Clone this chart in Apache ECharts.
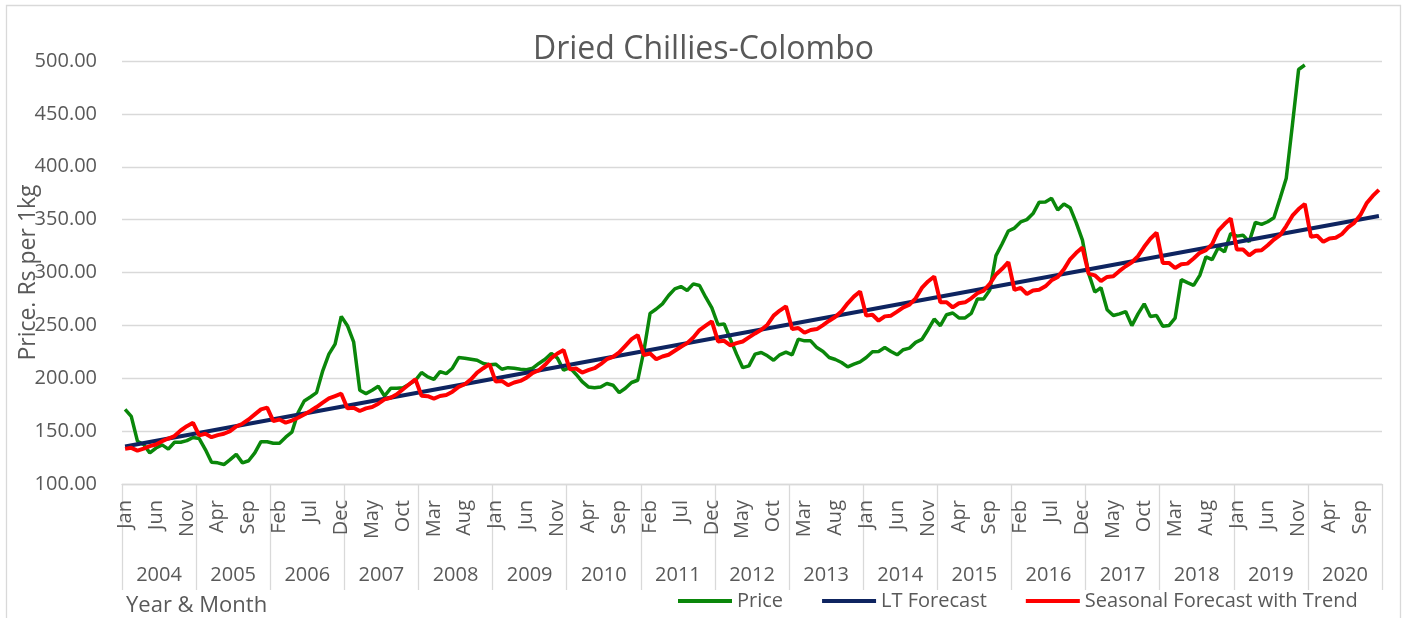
<!DOCTYPE html>
<html>
<head>
<meta charset="utf-8">
<title>Dried Chillies-Colombo</title>
<script src="https://cdn.jsdelivr.net/npm/echarts@6.0.0/dist/echarts.min.js"></script>
<style>
  html, body { margin: 0; padding: 0; background: #fff; }
  #chart { width: 1407px; height: 618px; }
</style>
</head>
<body>
<div id="chart"></div>
<script>
// axis categories
const years = ['2004','2005','2006','2007','2008','2009','2010','2011','2012','2013','2014','2015','2016','2017','2018','2019','2020'];
const monthNames = ['Jan','Feb','Mar','Apr','May','Jun','Jul','Aug','Sep','Oct','Nov','Dec'];

// monthly price, Jan 2004 - Dec 2019 (Rs per 1kg)
const price = [
  170.6, 164.0, 140.5, 137.3, 129.4, 134.0, 137.0, 133.0, 139.5, 139.5, 141.0, 144.0,
  143.0, 132.6, 120.6, 120.0, 118.4, 123.0, 128.0, 120.0, 122.0, 129.4, 140.0, 140.0,
  138.6, 138.6, 144.3, 149.0, 167.4, 178.5, 182.3, 186.4, 207.0, 222.8, 232.3, 258.5,
  249.7, 234.5, 188.6, 185.5, 188.6, 192.4, 183.2, 190.5, 190.5, 191.0, 194.3, 198.0,
  205.4, 201.3, 199.0, 206.3, 204.4, 209.5, 219.6, 219.0, 218.0, 217.0, 214.0, 212.7,
  213.3, 208.5, 210.0, 209.5, 208.5, 208.0, 209.5, 214.0, 218.0, 223.4, 219.0, 207.6,
  210.0, 203.8, 196.8, 191.8, 191.0, 191.8, 195.0, 193.4, 186.4, 190.5, 196.0, 198.1,
  226.0, 261.4, 265.5, 270.3, 278.2, 284.5, 286.7, 283.0, 289.2, 287.7, 276.6, 266.5,
  250.6, 251.3, 237.0, 222.8, 210.0, 211.7, 222.8, 224.4, 221.2, 217.0, 222.2, 224.7,
  222.2, 237.0, 235.4, 235.4, 229.0, 225.3, 219.6, 217.7, 214.9, 210.8, 213.3, 215.5,
  219.6, 225.0, 225.3, 229.0, 225.3, 222.2, 227.0, 228.5, 233.9, 236.7, 245.9, 256.0,
  249.7, 260.1, 261.7, 257.0, 257.0, 261.4, 275.0, 275.0, 283.5, 316.0, 327.2, 339.2,
  342.0, 347.8, 350.0, 355.7, 366.5, 366.7, 370.2, 359.1, 364.8, 361.3, 347.0, 330.6,
  299.2, 281.5, 285.6, 264.7, 259.3, 260.9, 263.1, 249.8, 260.9, 270.4, 258.4, 259.3,
  249.2, 249.8, 256.8, 293.2, 290.4, 287.8, 297.3, 314.8, 312.2, 323.6, 319.5, 336.9,
  334.4, 335.3, 329.0, 347.4, 345.5, 348.0, 351.8, 370.2, 389.2, 439.8, 492.0, 496.2
];

// long-term linear forecast, end points (Jan 2004, Dec 2020)
const ltStart = 135.4;
const ltEnd = 353.4;

// seasonal forecast with trend, Jan 2004 - Dec 2020
const seasonal = [
  133.2, 134.2, 131.6, 133.5, 135.8, 137.3, 140.5, 143.0, 145.3, 150.6, 154.7, 157.9,
  146.0, 147.5, 144.3, 146.2, 147.5, 150.0, 154.4, 157.0, 161.0, 165.8, 170.6, 172.2,
  159.5, 161.0, 158.0, 160.0, 162.7, 165.8, 169.0, 172.8, 177.0, 181.0, 183.2, 185.4,
  171.5, 172.2, 169.0, 171.5, 172.8, 176.0, 180.0, 181.6, 184.8, 189.6, 194.3, 199.0,
  183.5, 183.0, 180.7, 183.2, 184.2, 187.3, 191.8, 194.3, 199.0, 205.4, 209.5, 213.3,
  196.8, 197.5, 193.4, 196.0, 197.5, 200.6, 205.0, 207.6, 212.7, 219.0, 223.4, 226.6,
  208.5, 209.2, 205.4, 207.6, 209.5, 213.3, 218.0, 220.3, 224.4, 230.7, 237.0, 240.8,
  222.0, 223.4, 218.0, 220.6, 222.2, 226.0, 229.8, 233.2, 238.6, 245.6, 249.7, 253.8,
  234.8, 235.4, 231.0, 233.2, 234.8, 238.6, 242.4, 245.9, 250.6, 259.2, 264.0, 268.0,
  246.5, 247.5, 243.0, 245.6, 246.5, 250.3, 254.4, 258.2, 263.3, 270.9, 277.2, 282.0,
  259.2, 260.1, 254.4, 258.5, 259.2, 263.0, 267.0, 269.6, 275.6, 285.4, 291.5, 296.2,
  271.8, 271.8, 267.0, 270.9, 271.8, 275.6, 280.4, 282.9, 289.2, 298.1, 303.5, 309.8,
  283.5, 285.4, 279.7, 282.9, 283.6, 286.9, 292.6, 295.8, 303.0, 312.5, 318.6, 323.6,
  299.0, 297.3, 292.0, 295.8, 296.4, 301.5, 305.9, 309.7, 315.4, 324.3, 331.9, 337.6,
  309.1, 309.1, 304.3, 307.8, 308.4, 313.2, 318.6, 321.1, 326.8, 339.5, 345.8, 351.2,
  321.7, 321.7, 316.3, 320.5, 321.1, 325.8, 331.2, 335.3, 343.9, 353.7, 360.0, 364.8,
  333.8, 334.7, 329.0, 332.2, 332.8, 336.3, 342.6, 347.0, 354.3, 365.4, 372.4, 378.1
];

// one category per month, e.g. "Jan 2004"
const months = [];
years.forEach(y => monthNames.forEach(m => months.push(m + ' ' + y)));

const font = 'Open Sans';
const textColor = '#595959';
const gridColor = '#d9d9d9';

const myChart = echarts.init(document.getElementById('chart'));
const option = {
  animation: false,
  textStyle: { fontFamily: font },
  title: {
    text: 'Dried Chillies-Colombo',
    left: 'center',
    top: 29,
    textStyle: { fontFamily: font, fontSize: 32, fontWeight: 'normal', color: textColor }
  },
  legend: {
    data: ['Price', 'LT Forecast', 'Seasonal Forecast with Trend'],
    left: 673,
    top: 586,
    icon: 'rect',
    itemWidth: 54,
    itemHeight: 4,
    itemGap: 39,
    textStyle: { fontFamily: font, fontSize: 20, color: textColor }
  },
  grid: { left: 122, top: 61, width: 1260, height: 423, outerBoundsMode: 'none' },
  xAxis: [
    {
      type: 'category',
      data: months,
      boundaryGap: true,
      axisLine: { lineStyle: { color: gridColor, width: 1.3 } },
      axisTick: { show: false },
      axisLabel: {
        interval: 4,
        rotate: 90,
        margin: 16,
        fontFamily: font,
        fontSize: 20,
        color: textColor,
        formatter: v => v.split(' ')[0]
      },
      splitLine: { show: false }
    },
    {
      type: 'category',
      data: years,
      position: 'bottom',
      boundaryGap: true,
      axisLine: { show: false },
      axisTick: { show: true, interval: 0, length: 106, lineStyle: { color: gridColor, width: 1.3 } },
      axisLabel: { interval: 0, margin: 81, fontFamily: font, fontSize: 20, color: textColor },
      splitLine: { show: false }
    }
  ],
  yAxis: {
    type: 'value',
    min: 100,
    max: 500,
    interval: 50,
    name: 'Price. Rs per 1kg',
    nameLocation: 'middle',
    nameGap: 82,
    nameMoveOverlap: false,
    nameTextStyle: { fontFamily: font, fontSize: 23, color: textColor },
    axisLine: { show: false },
    axisTick: { show: false },
    axisLabel: {
      margin: 25,
      fontFamily: font,
      fontSize: 20,
      color: textColor,
      formatter: v => v.toFixed(2)
    },
    splitLine: { lineStyle: { color: gridColor, width: 1.3 } }
  },
  graphic: [
    {
      type: 'rect',
      shape: { x: 6.5, y: 5.5, width: 1394, height: 640 },
      style: { fill: 'none', stroke: gridColor, lineWidth: 1.3 },
      silent: true
    },
    {
      type: 'text',
      left: 126,
      top: 595,
      style: { text: 'Year & Month', fontFamily: font, fontSize: 22, fill: textColor },
      silent: true
    }
  ],
  series: [
    {
      name: 'Price',
      type: 'line',
      data: price,
      showSymbol: false,
      lineStyle: { color: '#0a870a', width: 3.5 },
      itemStyle: { color: '#0a870a' }
    },
    {
      name: 'LT Forecast',
      type: 'line',
      data: [[0, ltStart], [months.length - 1, ltEnd]],
      showSymbol: false,
      lineStyle: { color: '#0e2460', width: 4 },
      itemStyle: { color: '#0e2460' }
    },
    {
      name: 'Seasonal Forecast with Trend',
      type: 'line',
      data: seasonal,
      showSymbol: false,
      lineStyle: { color: '#ff0000', width: 4 },
      itemStyle: { color: '#ff0000' }
    }
  ]
};
myChart.setOption(option);
</script>
</body>
</html>
